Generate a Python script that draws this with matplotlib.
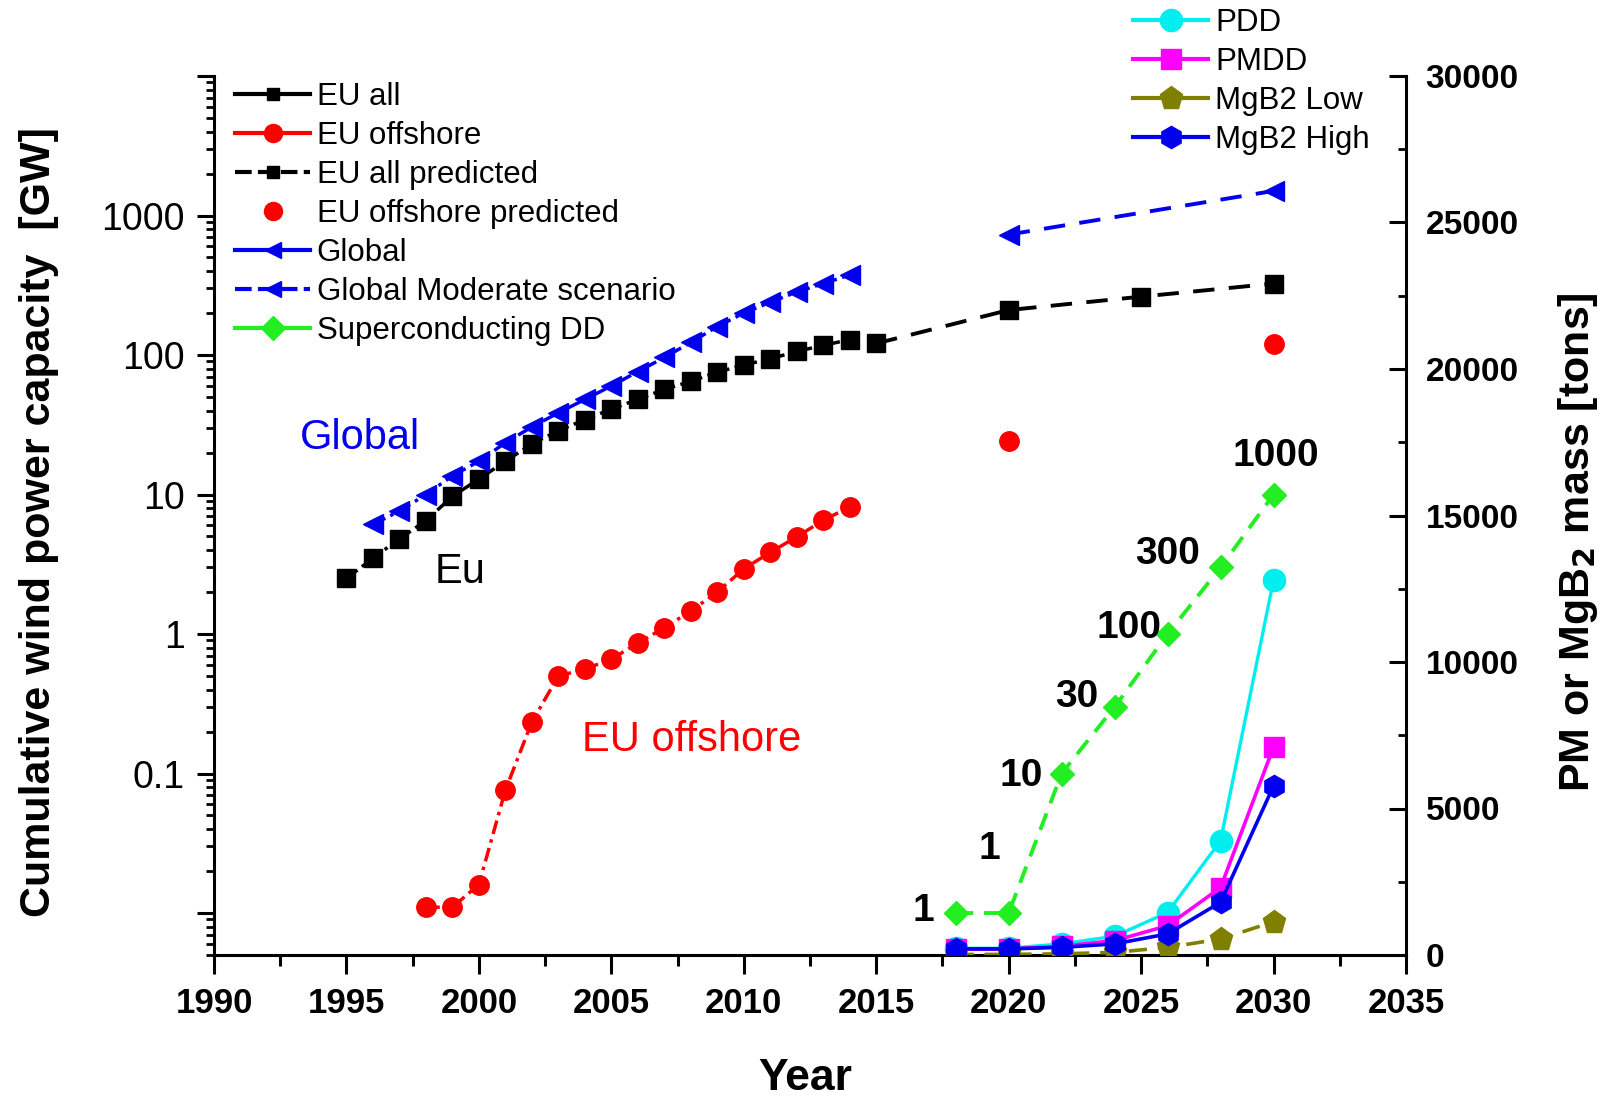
import matplotlib
matplotlib.use("Agg")
import matplotlib.pyplot as plt
from matplotlib.ticker import MultipleLocator, FixedLocator, FixedFormatter, LogLocator, NullFormatter

plt.rcParams["font.family"] = ["Liberation Sans", "DejaVu Sans"]

# installed capacity, GW
eu_years = [1995, 1996, 1997, 1998, 1999, 2000, 2001, 2002, 2003, 2004,
            2005, 2006, 2007, 2008, 2009, 2010, 2011, 2012, 2013, 2014]
eu_all = [2.5, 3.5, 4.8, 6.5, 9.7, 12.9, 17.3, 23.1, 28.6, 34.4,
          40.9, 48.1, 56.7, 64.7, 75.3, 84.7, 94.0, 106.0, 117.3, 128.8]
eu_pred_years = [2015, 2020, 2025, 2030]
eu_all_pred = [121, 210, 262, 325]

off_years = [1998, 1999, 2000, 2001, 2002, 2003, 2004, 2005, 2006,
             2007, 2008, 2009, 2010, 2011, 2012, 2013, 2014]
eu_offshore = [0.011, 0.011, 0.016, 0.076, 0.234, 0.50, 0.56, 0.66, 0.86,
               1.11, 1.46, 2.0, 2.93, 3.85, 4.97, 6.53, 8.15]
off_pred_years = [2020, 2030]
eu_offshore_pred = [24, 120]

global_years = [1996, 1997, 1998, 1999, 2000, 2001, 2002, 2003, 2004, 2005,
                2006, 2007, 2008, 2009, 2010, 2011, 2012, 2013, 2014]
global_gw = [6.1, 7.6, 10.0, 13.6, 17.3, 23.5, 30.5, 38.5, 48, 60,
             76, 96, 123, 160, 200, 239, 283, 325, 375]
global_mod_years = [2020, 2030]
global_mod = [730, 1500]

# superconducting direct-drive turbines (count), 10 MW each
dd_years = [2018, 2020, 2022, 2024, 2026, 2028, 2030]
dd_turbines = [1, 1, 10, 30, 100, 300, 1000]
turbine_mw = 10
dd_gw = [n * turbine_mw / 1000 for n in dd_turbines]

# material mass, tons
pdd_tons = [230, 230, 380, 640, 1450, 3900, 12800]
pmdd_tons = [200, 200, 300, 490, 1000, 2300, 7100]
mgb2_low_tons = [20, 20, 40, 90, 260, 545, 1135]
mgb2_high_tons = [210, 210, 260, 380, 720, 1800, 5770]

dashdot = (0, (4, 1.6, 1, 1.6))
dashed = (0, (5.5, 3.7))

fig = plt.figure(figsize=(16.13, 10.98), dpi=100)
ax = fig.add_axes([214 / 1613, 1 - 955 / 1098, 1192 / 1613, 879 / 1098])
ax2 = ax.twinx()

ax.plot(eu_years, eu_all, color="black", marker="s", ms=13, lw=2.5, ls=dashdot, label="EU all")
ax.plot(off_years, eu_offshore, color="red", marker="o", ms=14, lw=2.5, ls=dashdot, label="EU offshore")
ax.plot(eu_pred_years, eu_all_pred, color="black", marker="s", ms=13, lw=2.8, ls=dashed, label="EU all predicted")
ax.plot(off_pred_years, eu_offshore_pred, color="red", marker="o", ms=14, ls="none", label="EU offshore predicted")
ax.plot(global_years, global_gw, color="#0000ee", marker="<", ms=15, lw=2.5, ls=dashdot, label="Global")
ax.plot(global_mod_years, global_mod, color="#0000ee", marker="<", ms=15, lw=2.8, ls=dashed, label="Global Moderate scenario")
ax.plot(dd_years, dd_gw, color="#22ee22", marker="D", ms=12.5, lw=2.8, ls=(0, (4.5, 2.8)), label="Superconducting DD")

offsets = [(-23, 1.5), (-14, 46), (-29, -1.5), (-27, 7.4), (-28, 4.4), (-38, 9.6), (1.5, 28)]
for x, y, n, off in zip(dd_years, dd_gw, dd_turbines, offsets):
    ax.annotate(str(n), (x, y), xytext=off, textcoords="offset points",
                ha="center", va="center", fontsize=28, fontweight="bold")

ax.text(1995.5, 25.6, "Global", color="#0000ee", fontsize=30, ha="center", va="center")
ax.text(1999.3, 2.8, "Eu", color="black", fontsize=30, ha="center", va="center")
ax.text(2008.05, 0.175, "EU offshore", color="red", fontsize=30, ha="center", va="center")

ax2.plot(dd_years, pdd_tons, color="#00eeee", marker="o", ms=16, lw=2.4, label="PDD")
ax2.plot(dd_years, pmdd_tons, color="#ff00ff", marker="s", ms=14, lw=2.6, label="PMDD")
ax2.plot(dd_years, mgb2_low_tons, color="#808000", marker="p", ms=17, lw=2.6, ls=(0, (5, 3)), label="MgB2 Low")
ax2.plot(dd_years, mgb2_high_tons, color="#0000ee", marker="h", ms=16, lw=2.6, label="MgB2 High")

ax.set_xlim(1990, 2035)
ax.set_yscale("log")
ax.set_ylim(0.005, 10000)
ax2.set_ylim(0, 30000)

ax.xaxis.set_major_locator(MultipleLocator(5))
ax.xaxis.set_minor_locator(MultipleLocator(2.5))
ax.yaxis.set_major_locator(FixedLocator([0.01, 0.1, 1, 10, 100, 1000, 10000]))
ax.yaxis.set_major_formatter(FixedFormatter(["", "0.1", "1", "10", "100", "1000", ""]))
ax.yaxis.set_minor_locator(LogLocator(base=10, subs=range(2, 10), numticks=20))
ax.yaxis.set_minor_formatter(NullFormatter())
ax2.yaxis.set_major_locator(MultipleLocator(5000))
ax2.yaxis.set_minor_locator(MultipleLocator(2500))

for a in (ax, ax2):
    a.spines["top"].set_visible(False)
    for s in a.spines.values():
        s.set_linewidth(2.2)
ax.spines["right"].set_visible(False)
ax2.spines["left"].set_visible(False)
ax2.spines["bottom"].set_visible(False)

ax.tick_params(axis="x", which="major", direction="out", length=14, width=2.2, pad=9, labelsize=25)
ax.tick_params(axis="x", which="minor", direction="out", length=8, width=2.2)
ax.tick_params(axis="y", which="major", direction="out", length=12, width=2.2, pad=9, labelsize=27)
ax.tick_params(axis="y", which="minor", direction="out", length=6, width=2)
ax2.tick_params(axis="y", which="major", direction="in", length=12, width=2.2, pad=14, labelsize=24)
ax2.tick_params(axis="y", which="minor", direction="in", length=6, width=2)
for t in ax.get_xticklabels() + ax2.get_yticklabels():
    t.set_fontweight("bold")

fig.text(39 / 1613, 1 - 522 / 1098, "Cumulative wind power capacity  [GW]", rotation=90,
         ha="center", va="center", fontsize=31, fontweight="bold")
fig.text(1578 / 1613, 1 - 542 / 1098, "PM or MgB$_\\mathbf{2}$ mass [tons]", rotation=90,
         ha="center", va="center", fontsize=31, fontweight="bold")
fig.text(805 / 1613, 1 - 1078 / 1098, "Year", ha="center", va="center", fontsize=32, fontweight="bold")

leg1 = ax.legend(loc="upper left", bbox_to_anchor=(235 / 1613, 1 - 82 / 1098), bbox_transform=fig.transFigure,
                 frameon=False, fontsize=22.5, handlelength=2.4, handletextpad=0.22,
                 labelspacing=0.29, borderpad=0, borderaxespad=0)
leg_ms = [9, 13, 9, 13, 12, 12, 12]
leg_ls = ["-", "-", (0, (4, 1.5)), "none", "-", (0, (4, 1.5)), "-"]
for h, m, s in zip(leg1.legend_handles, leg_ms, leg_ls):
    h.set_markersize(m)
    h.set_linestyle(s)
    h.set_linewidth(3)

leg2 = ax2.legend(loc="upper left", bbox_to_anchor=(1133 / 1613, 1 - 8 / 1098), bbox_transform=fig.transFigure,
                  frameon=False, fontsize=22.5, handlelength=2.4, handletextpad=0.22,
                  labelspacing=0.29, borderpad=0, borderaxespad=0)
for h in leg2.legend_handles:
    h.set_linestyle("-")
    h.set_linewidth(3)

fig.savefig("out.png", dpi=100)
